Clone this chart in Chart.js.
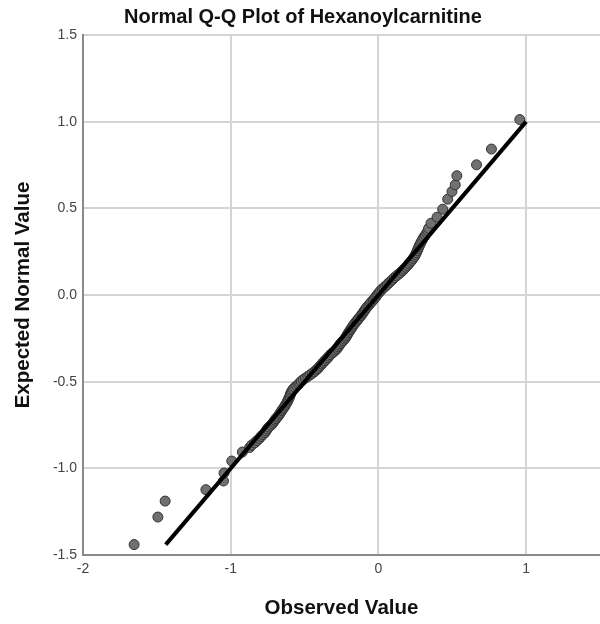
<!DOCTYPE html>
<html>
<head>
  <title>Normal Q-Q Plot of Hexanoylcarnitine</title>
  <style>
    body {
      margin: 0;
      overflow: hidden;
      background: #fff;
      font-family: Arial, "Liberation Sans", sans-serif;
    }
    .chart-container {
      position: relative;
      width: 606px;
      height: 624px;
    }
  </style>
  <script src="https://cdn.jsdelivr.net/npm/chart.js"></script>
</head>
<body>
  <div class="chart-container">
    <canvas id="qqChart"></canvas>
  </div>
  <script>
    const observed = [
      -1.654, -1.493, -1.444, -1.168, -1.049, -1.045, -0.993, -0.921,
      -0.872, -0.858, -0.838, -0.822, -0.806, -0.795, -0.781, -0.768,
      -0.760, -0.752, -0.741, -0.728, -0.717, -0.709, -0.700, -0.694,
      -0.683, -0.676, -0.668, -0.662, -0.655, -0.648, -0.640, -0.633,
      -0.628, -0.621, -0.616, -0.611, -0.606, -0.601, -0.598, -0.594,
      -0.590, -0.583, -0.577, -0.566, -0.553, -0.541, -0.532, -0.522,
      -0.509, -0.494, -0.478, -0.463, -0.448, -0.434, -0.422, -0.411,
      -0.401, -0.392, -0.383, -0.374, -0.364, -0.353, -0.343, -0.334,
      -0.325, -0.312, -0.300, -0.289, -0.279, -0.272, -0.265, -0.257,
      -0.248, -0.238, -0.229, -0.221, -0.215, -0.209, -0.203, -0.196,
      -0.189, -0.182, -0.175, -0.168, -0.160, -0.152, -0.143, -0.135,
      -0.126, -0.118, -0.110, -0.103, -0.096, -0.089, -0.081, -0.072,
      -0.063, -0.054, -0.045, -0.035, -0.026, -0.018, -0.011, -0.003,
      0.006, 0.015, 0.026, 0.037, 0.049, 0.060, 0.071, 0.084,
      0.096, 0.108, 0.122, 0.136, 0.150, 0.163, 0.174, 0.185,
      0.196, 0.206, 0.216, 0.226, 0.235, 0.244, 0.251, 0.257,
      0.263, 0.268, 0.273, 0.279, 0.285, 0.292, 0.300, 0.308,
      0.318, 0.327, 0.335, 0.340, 0.356, 0.397, 0.435, 0.469,
      0.498, 0.520, 0.531, 0.664, 0.765, 0.957
    ];
    const expected = [
      -1.440, -1.281, -1.189, -1.123, -1.073, -1.027, -0.958, -0.906,
      -0.880, -0.866, -0.853, -0.840, -0.828, -0.816, -0.805, -0.794,
      -0.783, -0.772, -0.762, -0.752, -0.742, -0.732, -0.722, -0.713,
      -0.704, -0.695, -0.686, -0.677, -0.668, -0.659, -0.650, -0.641,
      -0.632, -0.623, -0.614, -0.605, -0.596, -0.587, -0.578, -0.569,
      -0.560, -0.551, -0.542, -0.533, -0.524, -0.515, -0.506, -0.497,
      -0.488, -0.479, -0.470, -0.461, -0.452, -0.443, -0.434, -0.425,
      -0.416, -0.407, -0.398, -0.389, -0.380, -0.371, -0.362, -0.353,
      -0.344, -0.335, -0.326, -0.317, -0.308, -0.299, -0.290, -0.281,
      -0.272, -0.263, -0.254, -0.245, -0.236, -0.227, -0.218, -0.209,
      -0.200, -0.191, -0.182, -0.173, -0.164, -0.155, -0.146, -0.137,
      -0.128, -0.119, -0.110, -0.101, -0.092, -0.083, -0.074, -0.065,
      -0.056, -0.047, -0.038, -0.029, -0.020, -0.011, -0.002, 0.007,
      0.016, 0.025, 0.034, 0.043, 0.052, 0.061, 0.070, 0.080,
      0.090, 0.100, 0.110, 0.120, 0.130, 0.140, 0.150, 0.160,
      0.170, 0.180, 0.190, 0.200, 0.211, 0.222, 0.233, 0.244,
      0.255, 0.266, 0.277, 0.288, 0.299, 0.310, 0.322, 0.334,
      0.346, 0.358, 0.370, 0.385, 0.414, 0.449, 0.495, 0.553,
      0.597, 0.636, 0.688, 0.751, 0.842, 1.012
    ];

    // Reference line end points
    const lineX = [-1.44, 1.0];
    const lineY = [-1.44, 1.0];

    const xTicks = [-2, -1, 0, 1];
    const yTicks = [-1.5, -1.0, -0.5, 0.0, 0.5, 1.0, 1.5];

    const fontFamily = 'Arial, "Liberation Sans", sans-serif';

    const points = observed.map((x, i) => ({ x: x, y: expected[i] }));
    const linePoints = lineX.map((x, i) => ({ x: x, y: lineY[i] }));

    const ctx = document.getElementById('qqChart').getContext('2d');
    new Chart(ctx, {
      type: 'scatter',
      data: {
        datasets: [
          {
            type: 'line',
            data: linePoints,
            borderColor: '#000',
            borderWidth: 4,
            pointRadius: 0,
            fill: false,
            order: 0
          },
          {
            data: points,
            backgroundColor: '#707070',
            borderColor: '#333',
            borderWidth: 1,
            pointRadius: 5,
            order: 1
          }
        ]
      },
      options: {
        responsive: true,
        maintainAspectRatio: false,
        animation: false,
        layout: { padding: 0 },
        plugins: {
          legend: { display: false },
          tooltip: { enabled: false },
          title: {
            display: true,
            text: 'Normal Q-Q Plot of Hexanoylcarnitine',
            color: '#111',
            font: { family: fontFamily, size: 20, weight: 'bold', lineHeight: 1.2 },
            padding: { top: 5.5, bottom: 5.5 }
          }
        },
        scales: {
          x: {
            type: 'linear',
            min: -2,
            max: 1.5,
            afterFit: scale => { scale.height = 69; },
            afterBuildTicks: scale => {
              scale.ticks = xTicks.map(v => ({ value: v }));
            },
            grid: { color: '#d4d4d4', lineWidth: 2, drawTicks: false },
            border: { color: '#8a8a8a', width: 2 },
            ticks: {
              padding: 6,
              color: '#444',
              font: { family: fontFamily, size: 14 },
              callback: v => String(v)
            },
            title: {
              display: true,
              text: 'Observed Value',
              color: '#111',
              font: { family: fontFamily, size: 20.5, weight: 'bold' },
              padding: { top: 0, bottom: 3 }
            }
          },
          y: {
            type: 'linear',
            min: -1.5,
            max: 1.5,
            afterFit: scale => { scale.width = 83; },
            afterBuildTicks: scale => {
              scale.ticks = yTicks.map(v => ({ value: v }));
            },
            grid: { color: '#d4d4d4', lineWidth: 2, drawTicks: false },
            border: { color: '#8a8a8a', width: 2 },
            ticks: {
              padding: 6,
              color: '#444',
              font: { family: fontFamily, size: 14 },
              callback: v => v.toFixed(1)
            },
            title: {
              display: true,
              text: 'Expected Normal Value',
              color: '#111',
              font: { family: fontFamily, size: 20.5, weight: 'bold' },
              padding: { top: 11, bottom: 0 }
            }
          }
        }
      }
    });
  </script>
</body>
</html>
